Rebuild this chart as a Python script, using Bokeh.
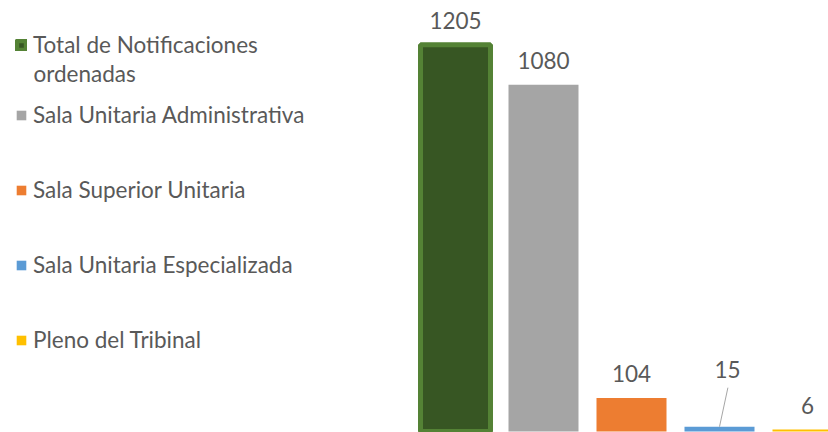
from bokeh.plotting import figure
from bokeh.models import Range1d, ColumnDataSource, Legend, LegendItem, LabelSet, Label
from bokeh.embed import file_html
from bokeh.resources import INLINE
from bokeh.core.properties import value

# ---- data ----
categories = ["Total de Notificaciones", "Sala Unitaria Administrativa",
              "Sala Superior Unitaria", "Sala Unitaria Especializada", "Pleno del Tribinal"]
first_label_cont = "ordenadas"
counts = [1205, 1080, 104, 15, 6]
value_labels = ["1205", "1080", "104", "15", "6"]

# ---- style ----
fill_colors = ["#375623", "#A5A5A5", "#ED7D31", "#5B9BD5", "#FFC000"]
line_colors = ["#548235", "#A5A5A5", "#ED7D31", "#5B9BD5", "#FFC000"]
line_alphas = [1, 0, 0, 0, 0]
label_dx = [0, 0, 0, 8, 0]
label_dy = [24, 24, 25, 57, 24]
TEXT = "#595959"
FONT = "Lato"
FS = "22.5px"

W, H = 828, 432
PX_PER_CAT = 88.0      # horizontal pixels per category
PX_PER_UNIT = 0.321    # vertical pixels per count
FIRST_BAR_PX = 455     # centre of first bar, from frame left
BASE_PX = 431          # baseline, from frame top

x0 = -FIRST_BAR_PX / PX_PER_CAT
x1 = (W - FIRST_BAR_PX) / PX_PER_CAT
y1 = BASE_PX / PX_PER_UNIT
y0 = -(H - BASE_PX) / PX_PER_UNIT

p = figure(width=W, height=H, output_backend="svg", toolbar_location=None,
           x_range=Range1d(x0, x1), y_range=Range1d(y0, y1),
           x_axis_type=None, y_axis_type=None, min_border=0,
           outline_line_color=None)
p.grid.visible = False

xs = list(range(len(counts)))
src = ColumnDataSource(dict(x=xs, top=counts, fill=fill_colors, line=line_colors,
                            la=line_alphas, txt=value_labels, dx=label_dx, dy=label_dy))
bars = p.vbar(x="x", top="top", bottom=0, width=70 / PX_PER_CAT, source=src,
              fill_color="fill", line_color="line", line_alpha="la", line_width=5)

# leader line for the displaced "15" label
i15 = 3
p.segment(x0=[xs[i15]], y0=[counts[i15]],
          x1=[xs[i15] + 8.4 / PX_PER_CAT], y1=[counts[i15] + 39 / PX_PER_UNIT],
          line_color="#A6A6A6", line_width=1)

labels = LabelSet(x="x", y="top", text="txt", source=src, x_offset="dx", y_offset="dy",
                  text_align="center", text_baseline="middle",
                  text_font=value(FONT), text_font_size=FS, text_color=TEXT)
p.add_layout(labels)

def make_legend(items, loc, spacing=0):
    return Legend(items=items, location=loc, orientation="vertical",
                  glyph_width=12, glyph_height=12, label_standoff=6, spacing=spacing,
                  padding=0, margin=0, border_line_color=None, background_fill_alpha=0,
                  label_text_font=FONT, label_text_font_size=FS, label_text_color=TEXT)

lg1 = make_legend([LegendItem(label=categories[0], renderers=[bars], index=0)], (15, 374))
lg2 = make_legend([LegendItem(label=categories[i], renderers=[bars], index=i) for i in range(1, 5)],
                  (15, 79), spacing=48)
p.add_layout(lg1)
p.add_layout(lg2)
p.add_layout(Label(x=33, y=H - 73, x_units="screen", y_units="screen", text=first_label_cont,
                   text_baseline="middle", text_font=FONT, text_font_size=FS, text_color=TEXT))

open("out.html", "w").write(file_html(p, INLINE))
